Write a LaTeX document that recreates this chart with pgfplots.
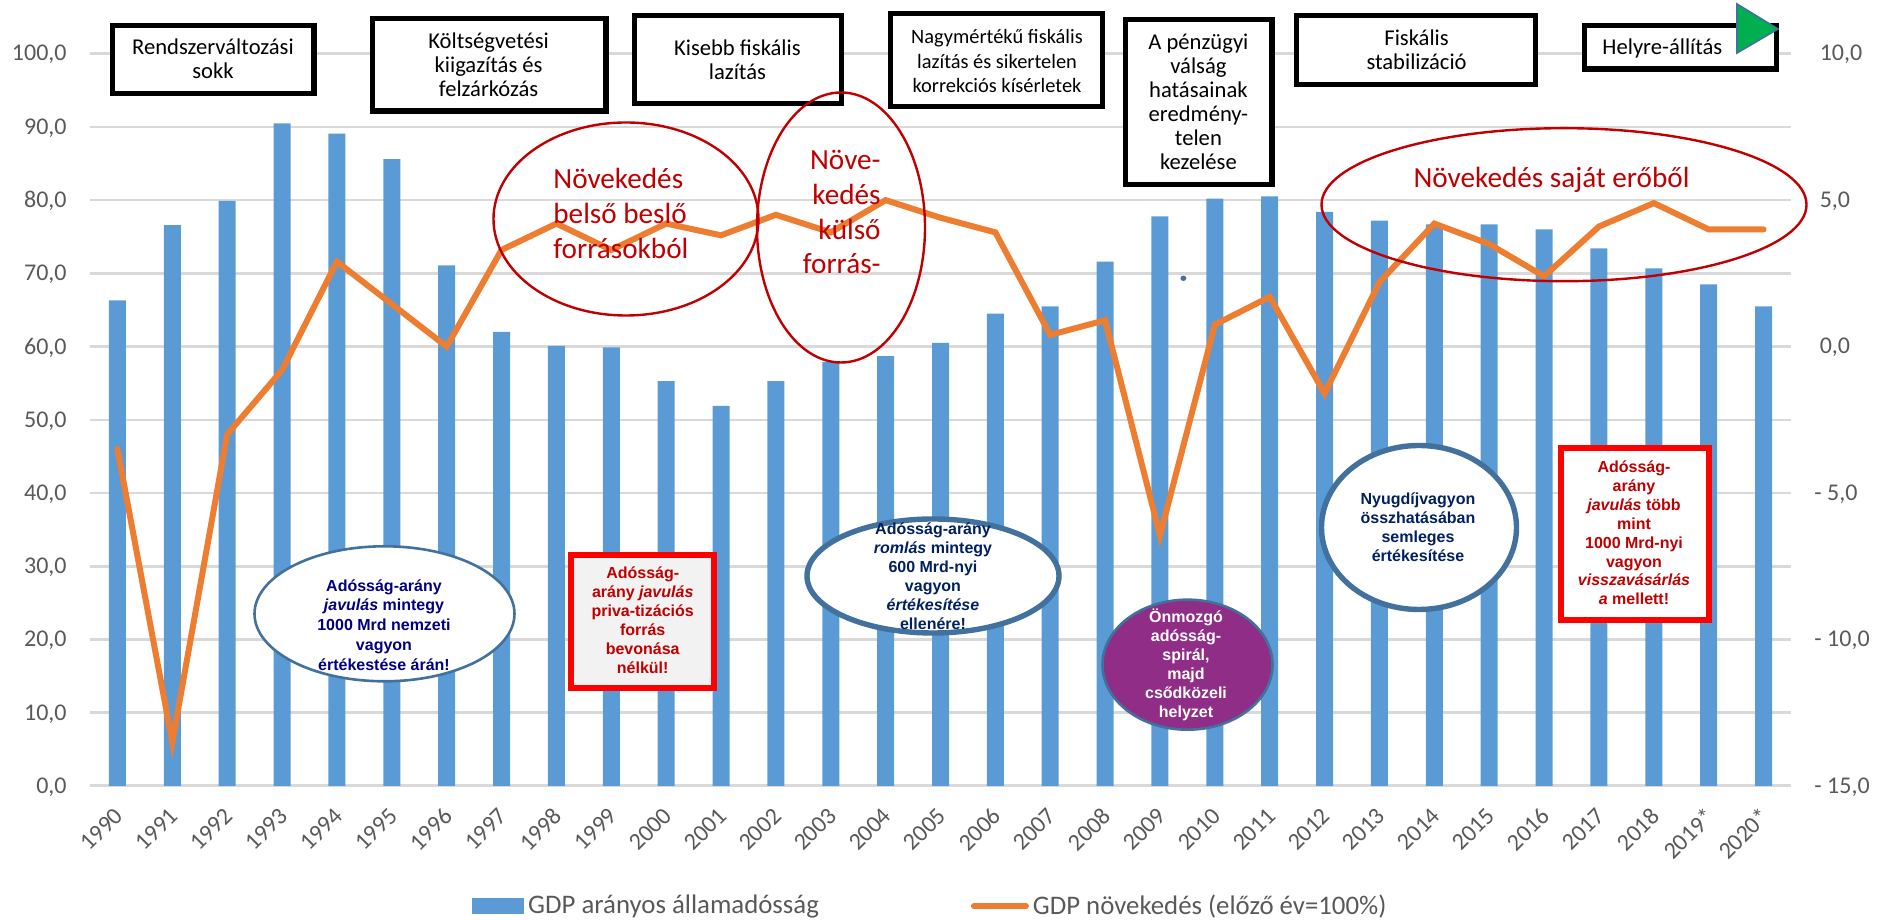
\documentclass[border=0pt]{standalone}
\usepackage{fontspec}
\setmainfont{Carlito}
\newfontfamily\arialf{Liberation Sans}
\usepackage{pgfplots}
\pgfplotsset{compat=1.18}
\usepackage{pgfplotstable}
\definecolor{bar}{HTML}{5B9BD5}
\definecolor{lin}{HTML}{ED7D31}
\definecolor{grd}{HTML}{D9D9D9}
\definecolor{tck}{HTML}{595959}
\definecolor{dred}{HTML}{C00000}
\definecolor{edge}{HTML}{41719C}
\definecolor{navy1}{HTML}{000080}
\definecolor{navy2}{HTML}{002060}
\definecolor{purp}{HTML}{8F2D87}
\pgfplotstableread{
x debt growth
0 66.3 -3.5
1 76.6 -13.5
2 79.9 -3.0
3 90.5 -0.8
4 89.1 2.9
5 85.6 1.45
6 71.1 0.0
7 62.0 3.3
8 60.1 4.2
9 59.9 3.3
10 55.3 4.2
11 51.9 3.8
12 55.3 4.5
13 57.9 3.9
14 58.7 5.0
15 60.5 4.4
16 64.5 3.9
17 65.5 0.4
18 71.6 0.9
19 77.8 -6.45
20 80.2 0.75
21 80.5 1.7
22 78.4 -1.6
23 77.2 2.2
24 76.7 4.2
25 76.7 3.5
26 76.0 2.4
27 73.4 4.1
28 70.7 4.9
29 68.5 4.0
30 65.5 4.0
}\data
\newcommand{\tl}[3]{\node[anchor=mid,inner sep=0pt] at (#1,#2) {#3};}
\newcommand{\tb}[3]{\node[anchor=mid,inner sep=0pt,yshift=-1.25pt] at (#1,#2) {#3};}
\begin{document}
\begin{tikzpicture}
\path[use as bounding box] (0,0) rectangle (940.5pt,460pt);
\begin{axis}[
  at={(45pt,67pt)},anchor=south west,scale only axis,
  width=850.5pt,height=366.15pt,
  xmin=-0.5,xmax=30.5,ymin=0,ymax=100,
  axis y line*=left,axis x line*=bottom,
  axis line style={draw=grd,line width=1.5pt},
  y axis line style={draw=none},
  major tick length=0pt,
  ytick={0,10,...,100},
  grid=none,ymajorgrids=true,
  major grid style={draw=grd,line width=1.3pt},
  xtick={0,...,30},
  xticklabels={1990,1991,1992,1993,1994,1995,1996,1997,1998,1999,2000,2001,2002,2003,2004,2005,2006,2007,2008,2009,2010,2011,2012,2013,2014,2015,2016,2017,2018,2019*,2020*},
  tick label style={font=\fontsize{12}{14}\selectfont,text=tck},
  xticklabel style={anchor=east,inner sep=0pt,xshift=0.85pt,yshift=-12.9pt,rotate=45},
  yticklabel style={anchor=east,inner sep=0pt,xshift=-11.5pt,yshift=-0.5pt,
    /pgf/number format/.cd,fixed,fixed zerofill,precision=1,use comma,assume math mode=true},
  ybar,bar width=8.5pt,
  axis on top=false,
]
\addplot[ybar,fill=bar,draw=none,bar shift=0pt] table[x=x,y=debt] {\data};
\end{axis}
\begin{axis}[
  at={(45pt,67pt)},anchor=south west,scale only axis,
  width=850.5pt,height=366.15pt,
  xmin=-0.5,xmax=30.5,ymin=-15,ymax=10,
  axis y line*=right,axis x line=none,
  y axis line style={draw=none},
  major tick length=0pt,
  ytick={-15,-10,-5,0,5,10},
  yticklabels={{- 15,0},{- 10,0},{- 5,0},{\hspace*{2.7pt}0,0},{\hspace*{2.7pt}5,0},{\hspace*{2.7pt}10,0}},
  yticklabel style={font=\fontsize{12}{14}\selectfont,text=tck,anchor=west,inner sep=0pt,xshift=11.5pt,yshift=-0.5pt},
  legend columns=2,
  legend style={at={(0.2246,-0.164)},anchor=west,draw=none,fill=none,inner sep=0pt,
    font=\fontsize{13.4}{16}\selectfont,text=tck,
    /tikz/every even column/.style={column sep=0pt}},
  legend cell align=left,
]
\addlegendimage{legend image code/.code={\fill[bar] (0pt,-3.7pt) rectangle (25.5pt,3.7pt);}}
\addlegendentry{GDP arányos államadósság\hspace*{74pt}}
\addplot[lin,line width=3pt,line join=miter,line cap=round,mark=none,
  legend image code/.code={\draw[lin,line width=3pt,line cap=round] (0pt,0pt) -- (26pt,0pt);}]
  table[x=x,y=growth] {\data};
\addlegendentry{GDP növekedés (előző év=100\%)}
\end{axis}
\begin{scope}[shift={(0,460pt)},x=0.5pt,y=-0.5pt]
% top boxes
\tikzset{bx/.style={draw=black,line width=2.7pt,fill=white}}
\draw[bx] (112.7,25.4) rectangle (313.8,93.3);
\draw[bx] (372.7,18.7) rectangle (605.8,111);
\draw[bx] (634.7,15.7) rectangle (841.3,103.3);
\draw[bx] (890.7,13.7) rectangle (1102.3,106.3);
\draw[bx] (1125.7,19.4) rectangle (1271.8,184.3);
\draw[bx] (1296.7,15.7) rectangle (1535.3,84.3);
\draw[bx] (1584.7,25.4) rectangle (1776.3,69);
\begin{scope}[font=\fontsize{11.3}{13}\selectfont,text=black]
\tb{213}{47.3}{Rendszerváltozási}\tb{213}{71.7}{sokk}
\tb{488.6}{41.7}{Költségvetési}\tb{488.6}{65.7}{kiigazítás és}\tb{488.6}{89.3}{felzárkózás}
\tb{737.4}{48.3}{Kisebb fiskális}\tb{737.4}{72.3}{lazítás}
\tb{1198.4}{42.3}{A pénzügyi}\tb{1198.4}{66.7}{válság}\tb{1198.4}{90.3}{hatásainak}\tb{1198.4}{114.7}{eredmény-}\tb{1198.4}{138.7}{telen}\tb{1198.4}{162.7}{kezelése}
\tb{1416.6}{38.3}{Fiskális}\tb{1416.6}{62.3}{stabilizáció}
\tb{1662.4}{47.3}{Helyre-állítás}
\end{scope}
\begin{scope}[font=\fontsize{10.2}{12}\selectfont,text=black]
\tb{997}{36.7}{Nagymértékű fiskális}\tb{997}{61}{lazítás és sikertelen}\tb{997}{85.3}{korrekciós kísérletek}
\end{scope}
\fill[fill={rgb,255:red,0;green,176;blue,80},draw=edge,line width=0.8pt] (1737,4) -- (1737,53) -- (1778,29) -- cycle;
% red ellipses
\tikzset{el/.style={draw=dred,line width=1.2pt}}
\draw[el] (626,219) ellipse [x radius=132.5,y radius=96.5];
\draw[el] (841,227.5) ellipse [x radius=84,y radius=135];
\draw[el] (1564,204.7) ellipse [x radius=242.5,y radius=76.5];
\begin{scope}[font=\fontsize{14.6}{17}\selectfont,text=dred]
\node[anchor=mid west,inner sep=0pt] at (553,184) {Növekedés};
\node[anchor=mid west,inner sep=0pt] at (553,219) {belső beslő};
\node[anchor=mid west,inner sep=0pt] at (553,254) {forrásokból};
\node[anchor=mid east,inner sep=0pt] at (881,165) {Növe-};
\node[anchor=mid east,inner sep=0pt] at (881,200) {kedés};
\node[anchor=mid east,inner sep=0pt] at (881,235) {külső};
\node[anchor=mid east,inner sep=0pt] at (881,269) {forrás-};
\tl{1551.5}{183}{Növekedés saját erőből}
\end{scope}
\fill[edge] (1183.4,278.3) ellipse [x radius=3,y radius=2.7];
% bubbles and red boxes
\draw[draw=edge,line width=1.3pt,fill=white] (384.5,613.8) ellipse [x radius=130,y radius=67.5];
\draw[draw=edge,line width=2.7pt,fill=white] (933,576) ellipse [x radius=126,y radius=57];
\draw[draw=edge,line width=1.3pt,fill=purp] (1187.5,664.7) ellipse [x radius=85,y radius=65];
\draw[draw=edge,line width=2.7pt,fill=white] (1419,527.5) ellipse [x radius=97.5,y radius=82];
\draw[draw=red,line width=3pt,fill={rgb,255:red,242;green,242;blue,242}] (571,554.7) rectangle (714,687.7);
\draw[draw=red,line width=3pt,fill=white] (1560.5,448) rectangle (1709,620);
\begin{scope}[font=\arialf\bfseries\fontsize{8}{10}\selectfont]
\begin{scope}[text=navy1]
\tl{384}{586.7}{Adósság-arány}\tl{384}{605.7}{\textit{javulás} mintegy}\tl{384}{625.7}{1000 Mrd nemzeti}\tl{384}{645.7}{vagyon}\tl{384}{665.7}{értékestése árán!}
\end{scope}
\begin{scope}[text=dred]
\tl{642.7}{574}{Adósság-}\tl{642.7}{593}{arány \textit{javulás}}\tl{642.7}{612}{priva-tizációs}\tl{642.7}{631}{forrás}\tl{642.7}{650}{bevonása}\tl{642.7}{669}{nélkül!}
\tl{1634}{468}{Adósság-}\tl{1634}{487}{arány}\tl{1634}{506}{\textit{javulás} több}\tl{1634}{525}{mint}\tl{1634}{544}{1000 Mrd-nyi}\tl{1634}{563}{vagyon}\tl{1634}{581}{\textit{visszavásárlás}}\tl{1634}{600}{\textit{a} mellett!}
\end{scope}
\begin{scope}[text=navy2]
\tl{933}{529.3}{Adósság-arány}\tl{933}{548.3}{\textit{romlás} mintegy}\tl{933}{567.3}{600 Mrd-nyi}\tl{933}{586.7}{vagyon}\tl{933}{605.7}{\textit{értékesítése}}\tl{933}{624.7}{ellenére!}
\tl{1418}{500}{Nyugdíjvagyon}\tl{1418}{519}{összhatásában}\tl{1418}{538}{semleges}\tl{1418}{557}{értékesítése}
\end{scope}
\begin{scope}[text=white]
\tl{1186}{617.7}{Önmozgó}\tl{1186}{636.7}{adósság-}\tl{1186}{656}{spirál,}\tl{1186}{675}{majd}\tl{1186}{694}{csődközeli}\tl{1186}{713}{helyzet}
\end{scope}
\end{scope}
\end{scope}
\end{tikzpicture}
\end{document}
